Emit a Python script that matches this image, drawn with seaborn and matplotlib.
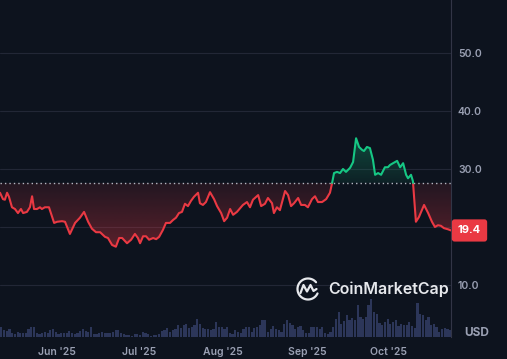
import numpy as np
import pandas as pd
import matplotlib
matplotlib.use('Agg')
import matplotlib.pyplot as plt
import matplotlib.dates as mdates
from matplotlib.path import Path
from matplotlib.patches import PathPatch
import matplotlib.transforms as mtransforms
import seaborn as sns

# ---- data ----
start = pd.Timestamp('2025-05-11')
days = [0.0, 1.1, 1.8, 2.6, 3.3, 4.4, 5.5, 6.6, 7.7, 8.5, 9.9, 11.0, 11.8, 12.5, 13.6,
        14.7, 15.4, 16.5, 18.0, 19.9, 21.0, 22.8, 23.9, 25.7, 27.6, 29.4, 30.9, 32.4,
        33.8, 35.3, 36.8, 38.6, 39.7, 41.2, 42.6, 43.8, 44.9, 46.7, 48.2, 49.6, 50.7,
        51.5, 52.6, 53.7, 54.8, 56.3, 57.4, 58.5, 59.9, 61.0, 62.5, 63.6, 64.7, 65.8,
        66.9, 68.0, 69.1, 70.2, 71.3, 72.8, 73.5, 74.6, 75.7, 77.2, 78.7, 79.8, 81.3,
        82.4, 83.5, 84.6, 85.7, 87.1, 88.2, 89.3, 90.8, 91.9, 93.0, 94.9, 96.0, 97.4,
        98.5, 100.0, 100.7, 101.8, 102.9, 104.8, 105.9, 107.0, 108.1, 109.6, 110.7,
        112.1, 113.2, 114.7, 115.8, 116.9, 118.4, 119.9, 121.3, 122.1, 122.8, 123.9,
        125.0, 126.1, 127.2, 128.7, 129.8, 130.9, 132.0, 133.1, 133.8, 134.9, 136.0,
        137.1, 137.9, 139.0, 140.1, 141.5, 142.6, 143.4, 144.5, 146.0, 147.1, 148.2,
        149.3, 150.0, 151.1, 151.8, 152.9, 154.0, 155.9, 157.4, 158.8, 159.9, 161.0,
        162.1, 163.2, 164.7, 165.8]
price = [25.9, 24.8, 24.7, 25.9, 25.2, 23.4, 23.1, 22.4, 23.1, 22.4, 22.6, 23.4, 25.3,
         23.1, 23.1, 23.4, 23.1, 23.4, 23.4, 20.7, 20.9, 21.0, 20.9, 18.8, 20.7, 21.6,
         22.6, 20.9, 19.7, 19.1, 19.1, 18.3, 18.1, 16.9, 16.6, 18.1, 18.1, 17.2, 17.8,
         18.8, 18.1, 17.2, 18.4, 18.4, 17.8, 18.1, 17.9, 18.3, 19.5, 20.7, 20.7, 21.2,
         21.6, 22.4, 22.6, 24.0, 23.6, 24.5, 25.2, 25.9, 24.1, 23.8, 24.3, 26.0, 24.8,
         23.6, 22.4, 21.0, 21.6, 23.1, 22.1, 22.6, 23.2, 23.8, 24.3, 23.4, 24.7, 25.5,
         23.6, 24.0, 25.0, 24.1, 22.4, 23.4, 22.9, 26.2, 25.5, 23.6, 24.1, 25.0, 23.8,
         23.8, 23.4, 24.8, 25.3, 24.3, 24.3, 24.8, 25.9, 27.6, 29.3, 29.5, 29.3, 30.0,
         29.5, 30.2, 31.2, 35.3, 33.8, 33.3, 33.1, 33.8, 33.6, 31.6, 29.0, 29.3, 29.0,
         30.3, 30.3, 30.7, 31.0, 31.4, 30.3, 31.0, 29.0, 28.4, 29.0, 27.9, 20.9, 21.7,
         23.8, 22.4, 20.9, 20.0, 20.3, 20.2, 19.8, 19.6, 19.4]
base_price = 27.6
last_price = 19.4

volume = [10, 7, 6, 8, 4, 3, 5, 4, 4, 4, 8, 10, 10, 4, 3, 4, 5, 4, 7, 8, 5, 3, 4, 4, 4,
          6, 4, 3, 4, 6, 8, 6, 5, 10, 3, 3, 4, 5, 4, 4, 4, 5, 7,
          7, 4, 3, 2, 2, 1, 3, 3, 2, 5, 4, 3, 1, 2, 2, 3, 6, 7, 9, 5, 7, 8, 12, 9, 12,
          13, 9, 10, 12, 18, 13, 9, 8, 8, 7, 8, 15, 10, 10, 8, 10, 4,
          3, 7, 5, 4, 8, 10, 10, 5, 9, 10, 12, 17, 17, 5, 8, 11, 8, 7, 5, 13, 17, 14,
          12, 8, 10, 11, 7, 4, 4, 10, 10, 10, 8, 10, 4, 3, 5, 10, 18, 25, 13, 16,
          22, 17, 19, 17, 32, 20, 18, 20, 32, 38, 25, 23, 14, 12, 15, 18, 13, 15, 17,
          11, 13, 12, 12, 15, 11, 9, 34, 23, 22, 17, 20, 12, 13, 10, 5, 8, 9, 8, 7]

month_ticks = ['2025-06-01', '2025-07-01', '2025-08-01', '2025-09-01', '2025-10-01']
price_ticks = [10, 20, 30, 40, 50]

BG = '#0d131e'
RED = '#ea3943'
GREEN = '#16c784'
TXT = '#9aa0b3'

sns.set_theme(style='dark')
plt.rcParams['font.family'] = ['Inter', 'DejaVu Sans']

fig = plt.figure(figsize=(5.07, 3.59), dpi=100, facecolor=BG)
ax2 = fig.add_axes([0, 22 / 359, 451 / 507, 337 / 359])
ax = ax2.twinx()
ax.set_zorder(ax2.get_zorder() + 1)
ax.patch.set_visible(False)
ax2.set_facecolor(BG)

# volume bars
vol_dates = start + pd.to_timedelta(np.arange(len(volume)) + 0.5, unit='D')
ax2.bar(vol_dates, volume, width=0.8, color='#2c3659', linewidth=0)
ax2.set_ylim(0, max(volume) * 8.9)
ax2.set_yticks([])

# price line split at the reference price
t = mdates.date2num(start + pd.to_timedelta(days, unit='D'))
y = np.array(price, dtype=float)
ts, ys = [t[0]], [y[0]]
for i in range(1, len(y)):
    if (y[i - 1] - base_price) * (y[i] - base_price) < 0:
        f = (base_price - y[i - 1]) / (y[i] - y[i - 1])
        ts.append(t[i - 1] + f * (t[i] - t[i - 1]))
        ys.append(base_price)
    ts.append(t[i])
    ys.append(y[i])
ts, ys = np.array(ts), np.array(ys)

rows = []
seg = -1
prev_side = None
for i in range(1, len(ys)):
    side = 'up' if (ys[i - 1] + ys[i]) / 2 > base_price else 'down'
    if side != prev_side:
        seg += 1
        rows.append((seg, side, ts[i - 1], ys[i - 1]))
        prev_side = side
    rows.append((seg, side, ts[i], ys[i]))
line_df = pd.DataFrame(rows, columns=['seg', 'side', 'date', 'price'])
line_df['date'] = mdates.num2date(line_df['date'].values)
line_df['date'] = pd.to_datetime(line_df['date']).dt.tz_localize(None)

# gradient fills
def gradient_fill(mask, lo, hi, color, a_lo, a_hi):
    poly = ax.fill_between(ts, ys, base_price, where=mask, facecolor='none',
                           edgecolor='none')
    p = Path.make_compound_path(*poly.get_paths())
    patch = PathPatch(p, transform=ax.transData, facecolor='none', edgecolor='none')
    ax.add_patch(patch)
    rgb = matplotlib.colors.to_rgb(color)
    n = 100
    img = np.zeros((n, 1, 4))
    img[:, 0, :3] = rgb
    img[:, 0, 3] = np.linspace(a_hi, a_lo, n)
    im = ax.imshow(img, extent=[ts[0], ts[-1], lo, hi], aspect='auto',
                   origin='upper', zorder=1, interpolation='bilinear')
    im.set_clip_path(patch)

gradient_fill(ys <= base_price, ys.min(), base_price, RED, 0.35, 0.10)
gradient_fill(ys >= base_price, base_price, ys.max(), GREEN, 0.08, 0.30)

sns.lineplot(data=line_df, x='date', y='price', hue='side', units='seg',
             estimator=None, sort=False, palette={'up': GREEN, 'down': RED},
             linewidth=1.5, legend=False, ax=ax, zorder=3)

ax.axhline(base_price, color='#b4b8c2', lw=1.0, ls=(0, (1, 2.2)), zorder=2)

ax.set_xlim(start, start + pd.Timedelta(days=165.8))
ax2.set_xlim(start, start + pd.Timedelta(days=165.8))
ax.set_ylim(1.03, 59.14)

ax.set_yticks(price_ticks)
ax.set_yticklabels(['10.0', '', '30.0', '40.0', '50.0'])
ax.yaxis.tick_right()
ax.tick_params(axis='y', length=0, pad=5, labelsize=7.5, labelcolor=TXT)
for lab in ax.get_yticklabels():
    lab.set_fontweight('semibold')
ax.grid(axis='y', color='#222736', lw=0.8)
ax.grid(axis='x', visible=False)
ax2.grid(False)

ax2.set_xticks(pd.to_datetime(month_ticks))
ax2.xaxis.set_major_formatter(mdates.DateFormatter("%b '%y"))
ax2.tick_params(axis='x', length=0, pad=7, labelsize=7.5, labelcolor=TXT)
for lab in ax2.get_xticklabels():
    lab.set_fontweight('semibold')
ax.tick_params(axis='x', bottom=False, labelbottom=False)
ax.set_xlabel('')
ax.set_ylabel('')
ax2.set_xlabel('')

for a in (ax, ax2):
    for s in a.spines.values():
        s.set_visible(False)
ax.spines['right'].set_visible(True)
ax.spines['right'].set_color('#323546')
ax.spines['right'].set_linewidth(0.8)

# last price tag
tr = mtransforms.blended_transform_factory(ax.transAxes, ax.transData)
ax.text(469.5 / 451, last_price, f'{last_price:.1f}', transform=tr, ha='center',
        va='center', fontsize=8, fontweight='bold', color='white', clip_on=False,
        zorder=10,
        bbox=dict(boxstyle='round,pad=0.55,rounding_size=0.25', fc=RED, ec='none'))

# overlay in pixel coordinates: watermark and currency label
ov = fig.add_axes([0, 0, 1, 1], zorder=20)
ov.set_xlim(0, 507)
ov.set_ylim(359, 0)
ov.axis('off')
ov.patch.set_visible(False)
th = np.radians(np.linspace(40, 335, 80))
ov.plot(308 + 10.5 * np.cos(th), 289 - 10.5 * np.sin(th), color='#e6e8ec', lw=1.6,
        solid_capstyle='round')
ov.plot([300.5, 303.5, 307, 310.5, 313.5, 316.5], [293, 285, 291.5, 285, 291, 289],
        color='#e6e8ec', lw=1.6, solid_capstyle='round', solid_joinstyle='round')
ov.text(328, 289, 'CoinMarketCap', ha='left', va='center', fontsize=11.5,
        fontweight='semibold', color='#e6e8ec')
ov.text(477, 333.5, 'USD', ha='center', va='center', fontsize=8.5,
        fontweight='bold', color=TXT)

fig.savefig('out.png', dpi=100, facecolor=BG)
